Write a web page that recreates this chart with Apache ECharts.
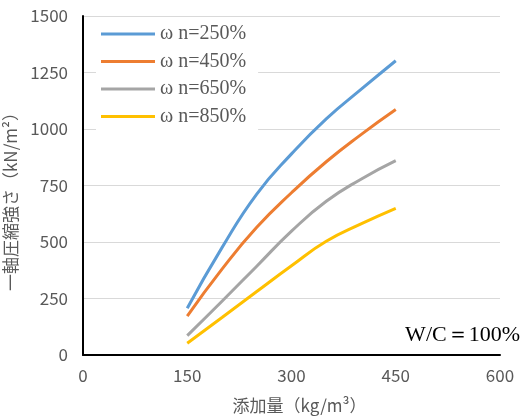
<!DOCTYPE html>
<html><head><meta charset="utf-8">
<script src="https://cdn.jsdelivr.net/npm/echarts@6/dist/echarts.min.js"></script>
<style>html,body{margin:0;padding:0;background:#fff}#c{width:521px;height:418px}</style>
</head><body><div id="c"></div>
<script>
const xValues = [150, 200, 250, 300, 350, 400, 450];
const seriesNames = ['ω n=250%', 'ω n=450%', 'ω n=650%', 'ω n=850%'];
const wn250 = [207, 475, 712, 890, 1045, 1175, 1302];
const wn450 = [172, 380, 565, 718, 855, 975, 1086];
const wn650 = [86, 238, 393, 548, 680, 778, 860];
const wn850 = [52, 166, 281, 395, 503, 580, 649];
const colors = ['#5B9BD5', '#ED7D31', '#A5A5A5', '#FFC000'];
const allValues = [wn250, wn450, wn650, wn850];

const chart = echarts.init(document.getElementById('c'));
const sansFont = '"Noto Sans CJK JP", Roboto, sans-serif';
chart.setOption({
  animation: false,
  grid: { left: 83, right: 21, top: 16, bottom: 63, containLabel: false, outerBoundsMode: 'none' },
  legend: {
    left: 96, top: 19, orient: 'vertical',
    backgroundColor: '#fff', padding: [5, 12, 5, 5],
    itemWidth: 54, itemHeight: 3, itemGap: 7.5, icon: 'rect',
    textStyle: { fontFamily: '"Liberation Serif", serif', fontSize: 20, color: '#595959', lineHeight: 20 },
    data: seriesNames
  },
  xAxis: {
    type: 'value', min: 0, max: 600, interval: 150,
    name: '添加量（kg/m³）', nameLocation: 'middle', nameGap: 42,
    nameTextStyle: { fontFamily: sansFont, fontSize: 17, color: '#595959', padding: [0, 0, 0, 16] },
    axisLine: { show: true, lineStyle: { color: '#000', width: 2 } },
    axisTick: { show: false },
    splitLine: { show: false },
    axisLabel: { fontFamily: sansFont, fontSize: 17, color: '#595959', margin: 12 }
  },
  yAxis: {
    type: 'value', min: 0, max: 1500, interval: 250,
    name: '一軸圧縮強さ（kN/m²）', nameLocation: 'middle', nameGap: 58,
    nameTextStyle: { fontFamily: sansFont, fontSize: 17, color: '#595959', padding: [0, 24, 0, 0] },
    axisLine: { show: true, lineStyle: { color: '#000', width: 2 } },
    axisTick: { show: false },
    splitLine: { lineStyle: { color: '#D9D9D9', width: 1.2 } },
    axisLabel: { fontFamily: sansFont, fontSize: 17, color: '#595959', margin: 15, formatter: v => String(v) }
  },
  graphic: [{
    type: 'text', right: 1, top: 324,
    style: { text: 'W/C＝100%', font: '22px "Liberation Serif", serif', fill: '#000' }
  }],
  series: allValues.map((vals, i) => ({
    name: seriesNames[i], type: 'line', smooth: 0.5, symbol: 'none',
    data: xValues.map((x, j) => [x, vals[j]]),
    lineStyle: { color: colors[i], width: 3 },
    itemStyle: { color: colors[i] }
  }))
});
</script></body></html>
